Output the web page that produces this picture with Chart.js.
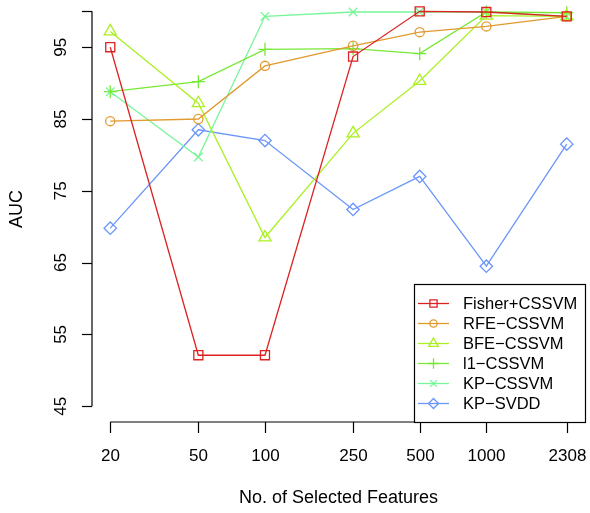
<!DOCTYPE html>
<html>
<head>
<meta charset="utf-8">
<script src="https://cdn.jsdelivr.net/npm/chart.js@4"></script>
<style>
  html, body { margin: 0; padding: 0; background: #fff; }
  #wrap { width: 590px; height: 513px; }
</style>
</head>
<body>
<div id="wrap"><canvas id="chart" width="590" height="513"></canvas></div>
<script>
// --- Data ---
const features = [20, 50, 100, 250, 500, 1000, 2308];
const yTicks = [45, 55, 65, 75, 85, 95];

const fisherCSSVM = [95.0, 52.1, 52.1, 93.7, 100.0, 99.9, 99.3];
const rfeCSSVM    = [84.7, 85.0, 92.4, 95.2, 97.1, 97.9, 99.3];
const bfeCSSVM    = [97.2, 87.2, 68.5, 83.0, 90.3, 99.4, 99.3];
const l1CSSVM     = [88.8, 90.2, 94.7, 94.8, 94.1, 99.9, 99.8];
const kpCSSVM     = [88.8, 79.7, 99.3, 99.9, 99.9, 99.9, 99.3];
const kpSVDD      = [69.8, 83.5, 82.0, 72.4, 77.0, 64.5, 81.5];

const seriesNames  = ['Fisher+CSSVM', 'RFE\u2212CSSVM', 'BFE\u2212CSSVM', 'l1\u2212CSSVM', 'KP\u2212CSSVM', 'KP\u2212SVDD'];
const seriesColors = ['#dd2222', '#e09a2e', '#aaf022', '#77e836', '#77f598', '#6a96fa'];
const seriesStyles = ['rect', 'circle', 'triangle', 'cross', 'crossRot', 'rectRot'];
const seriesRadius = [6.4, 4.6, 7, 6.5, 6, 6.2];
const seriesValues = [fisherCSSVM, rfeCSSVM, bfeCSSVM, l1CSSVM, kpCSSVM, kpSVDD];

const FONT = '"Liberation Sans", Arial, Helvetica, sans-serif';

const datasets = seriesNames.map((name, i) => ({
    label: name,
    data: features.map((f, j) => ({ x: f, y: seriesValues[i][j] })),
    borderColor: seriesColors[i],
    borderWidth: 1.3,
    pointStyle: seriesStyles[i],
    pointRadius: seriesRadius[i],
    pointBorderColor: seriesColors[i],
    pointBackgroundColor: 'rgba(0,0,0,0)',
    pointBorderWidth: 1.3,
    tension: 0,
    fill: false,
}));

// R-style detached axes, titles and legend
const rAxes = {
    id: 'rAxes',
    afterDraw(chart) {
        const ctx = chart.ctx;
        const xs = chart.scales.x, ys = chart.scales.y;
        ctx.save();
        ctx.strokeStyle = '#000';
        ctx.fillStyle = '#000';
        ctx.lineWidth = 1.2;

        // y axis
        const yAxisX = chart.chartArea.left;
        ctx.beginPath();
        ctx.moveTo(yAxisX, ys.getPixelForValue(45));
        ctx.lineTo(yAxisX, ys.getPixelForValue(100));
        ctx.stroke();
        ctx.font = '17px ' + FONT;
        ctx.textAlign = 'center';
        ctx.textBaseline = 'middle';
        [...yTicks, 100].forEach(v => {
            const py = Math.round(ys.getPixelForValue(v)) + 0.5;
            ctx.beginPath();
            ctx.moveTo(yAxisX - 10, py);
            ctx.lineTo(yAxisX, py);
            ctx.stroke();
        });
        yTicks.forEach(v => {
            const py = ys.getPixelForValue(v);
            ctx.save();
            ctx.translate(61, py);
            ctx.rotate(-Math.PI / 2);
            ctx.fillText(String(v), 0, 0);
            ctx.restore();
        });

        // x axis
        const xAxisY = chart.chartArea.bottom;
        ctx.beginPath();
        ctx.moveTo(xs.getPixelForValue(features[0]), xAxisY);
        ctx.lineTo(xs.getPixelForValue(features[features.length - 1]), xAxisY);
        ctx.stroke();
        features.forEach(f => {
            const px = Math.round(xs.getPixelForValue(f)) + 0.5;
            ctx.beginPath();
            ctx.moveTo(px, xAxisY);
            ctx.lineTo(px, xAxisY + 11);
            ctx.stroke();
            ctx.fillText(String(f), px, 456);
        });

        // titles
        ctx.font = '18px ' + FONT;
        ctx.fillText('No. of Selected Features', (chart.chartArea.left + chart.chartArea.right) / 2, 498);
        ctx.save();
        ctx.translate(17, 209);
        ctx.rotate(-Math.PI / 2);
        ctx.fillText('AUC', 0, 0);
        ctx.restore();

        // legend box, bottom right
        const bx = 414, by = 284, bw = 171, bh = 138;
        ctx.fillStyle = '#fff';
        ctx.fillRect(bx, by, bw, bh);
        ctx.strokeRect(bx + 0.5, by + 0.5, bw, bh);
        ctx.font = '16.5px ' + FONT;
        ctx.textAlign = 'left';
        seriesNames.forEach((name, i) => {
            const ry = 303.5 + i * 20;
            ctx.strokeStyle = seriesColors[i];
            ctx.lineWidth = 1.3;
            ctx.beginPath();
            ctx.moveTo(418, ry);
            ctx.lineTo(449, ry);
            ctx.stroke();
            ctx.fillStyle = 'rgba(0,0,0,0)';
            Chart.helpers.drawPoint(ctx, {
                pointStyle: seriesStyles[i],
                radius: seriesRadius[i] * 0.8,
                rotation: 0,
                borderWidth: 1.3,
            }, 433.5, ry);
            ctx.fillStyle = '#000';
            ctx.fillText(name, 463, ry + 1);
        });
        ctx.restore();
    }
};

new Chart(document.getElementById('chart').getContext('2d'), {
    type: 'line',
    data: { datasets },
    options: {
        responsive: false,
        animation: false,
        devicePixelRatio: 1,
        layout: { autoPadding: false, padding: { left: 92, right: 5, top: 0, bottom: 91 } },
        scales: {
            x: {
                type: 'logarithmic',
                display: false,
                bounds: 'data',
                min: Math.pow(10, Math.log10(20) - 0.04 * Math.log10(2308 / 20)),
                max: Math.pow(10, Math.log10(2308) + 0.04 * Math.log10(2308 / 20)),
            },
            y: {
                type: 'linear',
                display: false,
                bounds: 'data',
                grace: 0,
                min: 42.8,
                max: 42.8 + 422 / 7.18,
            }
        },
        plugins: {
            legend: { display: false },
            tooltip: { enabled: false },
        },
        elements: { line: { borderJoinStyle: 'miter' } },
    },
    plugins: [rAxes]
});
</script>
</body>
</html>
